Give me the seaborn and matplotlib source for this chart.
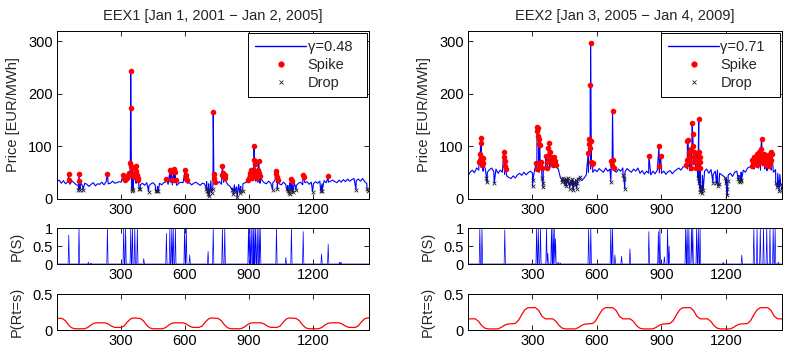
import numpy as np
import pandas as pd
import matplotlib
matplotlib.use("Agg")
import matplotlib.pyplot as plt
from matplotlib.lines import Line2D
import seaborn as sns

# === data =================================================================
titles = ["EEX1 [Jan 1, 2001 \u2212 Jan 2, 2005]", "EEX2 [Jan 3, 2005 \u2212 Jan 4, 2009]"]
gammas = ["\u03b3=0.48", "\u03b3=0.71"]
xticks = [300, 600, 900, 1200]

# baseline price, one reading every 10 days (day 1, 11, ..., 1451)
base_days = list(range(1, 1461, 10))
price1_base = [33, 36, 30, 35, 29, 33, 28, 34, 31, 27,
               26, 31, 25, 30, 28, 24, 28, 31, 25, 29,
               28, 32, 27, 33, 29, 30, 34, 30, 31, 33,
               32, 35, 34, 37, 38, 33, 37, 30, 31, 27,
               30, 26, 31, 25, 29, 31, 26, 24, 30, 27,
               31, 33, 28, 32, 27, 31, 26, 30, 32, 31,
               34, 30, 31, 27, 30, 32, 29, 26, 30, 29,
               33, 29, 35, 30, 34, 29, 33, 28, 32, 34,
               27, 24, 21, 27, 23, 28, 24, 29, 31, 33,
               35, 37, 39, 34, 32, 30, 35, 31, 29, 34,
               30, 31, 35, 31, 29, 27, 32, 28, 26, 31,
               27, 31, 26, 30, 32, 27, 31, 33, 28, 32,
               29, 33, 30, 34, 29, 35, 31, 32, 34, 36,
               33, 31, 36, 32, 37, 33, 38, 34, 37, 39,
               35, 38, 34, 39, 33, 29]
price2_base = [45, 51, 55, 50, 59, 55, 61, 53, 58, 51,
               56, 59, 52, 57, 49, 55, 51, 47, 44, 41,
               39, 44, 40, 46, 49, 45, 51, 46, 50, 53,
               49, 56, 59, 51, 61, 55, 63, 66, 59, 64,
               67, 61, 57, 40, 36, 35, 38, 32, 36, 34,
               33, 36, 38, 35, 40, 46, 51, 57, 51, 56,
               52, 58, 54, 51, 59, 53, 57, 61, 54, 51,
               57, 53, 59, 52, 58, 54, 51, 57, 53, 59,
               49, 54, 47, 53, 49, 46, 53, 48, 55, 50,
               49, 53, 47, 52, 54, 48, 53, 56, 59, 55,
               61, 63, 57, 54, 61, 65, 57, 53, 49, 45,
               53, 57, 49, 56, 47, 53, 55, 49, 46, 43,
               39, 46, 49, 43, 51, 53, 45, 51, 55, 51,
               59, 61, 63, 57, 65, 59, 55, 63, 57, 54,
               61, 55, 51, 56, 49, 47]

spike1_days = [56, 57, 104, 106, 237, 310, 313, 317, 322, 330, 335, 340, 344, 346, 347, 349,
               352, 355, 360, 366, 370, 373, 376, 379, 382, 513, 530, 535, 540, 548, 552, 556,
               600, 603, 606, 609, 732, 735, 738, 741, 772, 775, 778, 781, 785, 789,
               897, 900, 903, 906, 909, 912, 915, 920, 923, 925, 927, 930, 933, 937, 941, 945,
               948, 952, 1026, 1028, 1031, 1034, 1096, 1099, 1152, 1155, 1270]
spike1_vals = [47, 36, 47, 34, 47, 45, 40, 37, 42, 40, 45, 50, 68, 243, 174, 63,
               60, 45, 42, 50, 63, 54, 46, 40, 36, 38, 55, 52, 37, 58, 51, 36,
               55, 45, 40, 36, 165, 48, 40, 33, 45, 63, 50, 42, 46, 40,
               36, 40, 45, 50, 56, 46, 40, 55, 100, 75, 66, 50, 44, 40, 56, 72,
               50, 44, 53, 47, 42, 36, 38, 35, 45, 42, 43]
spike2_days = [52, 55, 58, 60, 61, 63, 65, 67, 70, 73, 167, 170, 172, 174, 176,
               318, 320, 322, 324, 326, 328, 330, 333, 335, 337, 340, 343,
               362, 366, 370, 375, 377, 380, 384, 388, 392, 396, 400, 405, 410,
               560, 563, 565, 567, 569, 570, 571, 573, 575, 577, 580,
               668, 671, 673, 676, 679, 842, 889, 891, 897,
               1015, 1018, 1021, 1024, 1027, 1030, 1033, 1036, 1040, 1043, 1046, 1048,
               1050, 1053, 1056, 1060, 1065, 1068, 1071, 1074, 1076, 1078, 1080, 1082,
               1320, 1323, 1326, 1330, 1333, 1336, 1340, 1343, 1346, 1350, 1353, 1356,
               1360, 1363, 1366, 1369, 1372, 1375, 1378, 1381, 1384, 1387, 1390, 1393,
               1396, 1399, 1402, 1405, 1408, 1412, 1414]
spike2_vals = [70, 75, 85, 116, 107, 80, 72, 65, 78, 68, 90, 80, 72, 63, 58,
               68, 58, 130, 138, 135, 120, 115, 105, 102, 65, 70, 60,
               82, 70, 60, 97, 106, 90, 75, 80, 70, 65, 80, 72, 65,
               88, 105, 115, 110, 98, 218, 298, 110, 70, 66, 68,
               72, 65, 167, 75, 60, 82, 100, 62, 81,
               65, 75, 110, 112, 80, 90, 70, 60, 95, 145, 124, 100,
               90, 80, 70, 60, 88, 75, 68, 152, 90, 80, 70, 60,
               62, 75, 70, 80, 68, 78, 72, 85, 65, 80, 74, 90,
               70, 96, 114, 82, 75, 68, 86, 72, 80, 65, 76, 70,
               84, 62, 78, 70, 74, 90, 86]

drop1_days = [101, 108, 122, 350, 353, 356, 385, 390, 430, 462, 470, 475, 700, 704, 708, 712,
              718, 724, 730, 820, 826, 834, 844, 856, 862, 870, 1010, 1032, 1075, 1080, 1085,
              1090, 1095, 1100, 1105, 1120, 1197, 1235, 1242, 1400, 1452, 1458]
drop1_vals = [18, 18, 17, 16, 20, 18, 20, 19, 14, 15, 16, 15, 20, 15, 10, 5,
              18, 12, 20, 18, 10, 14, 3, 12, 15, 16, 18, 20, 20, 15, 12,
              10, 16, 18, 14, 17, 14, 15, 16, 18, 20, 15]
drop2_days = [87, 89, 123, 301, 303, 345, 348, 350, 436, 440, 444, 448, 452, 455, 458, 462,
              466, 470, 474, 478, 482, 486, 490, 494, 498, 502, 506, 510, 514, 520, 665,
              722, 726, 730, 1070, 1074, 1078, 1082, 1086, 1090, 1095, 1140, 1156, 1162, 1168,
              1197, 1200, 1203, 1206, 1210, 1257, 1261, 1265, 1269, 1272, 1432, 1440, 1448,
              1455, 1460]
drop2_vals = [40, 32, 30, 24, 36, 40, 30, 22, 38, 32, 40, 36, 28, 38, 24, 33,
              40, 30, 20, 35, 28, 38, 18, 32, 26, 36, 20, 30, 38, 42, 33,
              45, 38, 20, 40, 30, 20, 14, 25, 12, 18, 31, 30, 25, 28,
              40, 30, 20, 8, 35, 38, 35, 32, 36, 34, 30, 22, 15,
              28, 18]

# spike-regime probability: peak day and height
ps1_days = [56, 104, 148, 160, 237, 313, 322, 346, 354, 365, 377, 407, 513, 529, 538, 545,
            555, 598, 606, 622, 708, 732, 775, 786, 897, 903, 910, 918, 923, 930, 938, 946,
            952, 1028, 1072, 1098, 1153, 1239, 1270, 1323, 1330]
ps1_vals = [0.8, 1, 0.05, 0.03, 1, 1, 1, 1, 1, 1, 1, 0.15, 0.85, 1, 1, 1,
            1, 1, 1, 0.25, 0.35, 1, 1, 1, 1, 1, 1, 1, 1, 1, 1, 1,
            1, 1, 0.18, 1, 0.9, 0.28, 0.55, 0.05, 0.05]
ps2_days = [56, 66, 172, 320, 328, 338, 366, 372, 389, 396, 402, 408, 420, 430, 562, 572,
            665, 673, 684, 715, 754, 842, 886, 893, 914, 929, 936, 1013, 1020, 1028, 1040,
            1046, 1064, 1072, 1080, 1188, 1274, 1330, 1345, 1360, 1375, 1390, 1405, 1420,
            1429, 1444]
ps2_vals = [1, 1, 0.95, 1, 1, 1, 1, 0.3, 1, 1, 1, 0.7, 0.05, 0.03, 1, 1,
            1, 1, 0.25, 0.22, 0.42, 0.9, 0.9, 1, 0.2, 1, 0.5, 1, 1, 1, 1,
            1, 1, 1, 1, 0.05, 0.25, 1, 1, 1, 1, 1, 1, 1,
            1, 0.05]

# P(Rt = s) readings
rt1_days = [1, 25, 40, 55, 70, 85, 130, 145, 160, 175, 190, 225, 240, 255, 270, 300, 315, 330, 345, 360,
            390, 405, 420, 435, 450, 495, 510, 525, 540, 555, 590, 605, 620, 635, 665, 680, 695, 710, 725,
            755, 770, 785, 800, 815, 860, 875, 890, 905, 920, 955, 970, 985, 1000, 1030, 1045, 1060, 1075, 1090,
            1120, 1135, 1150, 1165, 1180, 1225, 1240, 1255, 1270, 1285, 1320, 1335, 1350, 1365, 1395, 1410,
            1425, 1440, 1455, 1461]
rt1_vals = [0.165, 0.16, 0.13, 0.07, 0.03, 0.017, 0.017, 0.035, 0.07, 0.095, 0.10, 0.10, 0.085, 0.055, 0.037, 0.035, 0.055, 0.11, 0.155, 0.168,
            0.16, 0.13, 0.07, 0.03, 0.017, 0.017, 0.035, 0.07, 0.095, 0.10, 0.10, 0.085, 0.055, 0.037, 0.035, 0.055, 0.11, 0.155, 0.168,
            0.16, 0.13, 0.07, 0.03, 0.017, 0.017, 0.035, 0.07, 0.095, 0.10, 0.10, 0.085, 0.055, 0.037, 0.035, 0.055, 0.11, 0.155, 0.168,
            0.16, 0.13, 0.07, 0.03, 0.017, 0.017, 0.035, 0.07, 0.095, 0.10, 0.10, 0.085, 0.055, 0.037, 0.035, 0.055,
            0.11, 0.155, 0.168, 0.168]
rt2_days = [1, 35, 50, 65, 80, 95, 140, 155, 170, 185, 220, 235, 250, 265, 280, 315, 330, 345,
            361, 395, 410, 425, 440, 455, 500, 515, 530, 545, 580, 595, 610, 625, 640, 675, 690, 705,
            721, 755, 770, 785, 800, 815, 860, 875, 890, 905, 940, 955, 970, 985, 1000, 1035, 1050, 1065,
            1081, 1115, 1130, 1145, 1160, 1175, 1220, 1235, 1250, 1265, 1300, 1315, 1330, 1345, 1360, 1395,
            1410, 1425, 1441, 1461]
rt2_vals = [0.155, 0.155, 0.12, 0.06, 0.025, 0.015, 0.015, 0.035, 0.065, 0.082, 0.09, 0.13, 0.21, 0.28, 0.31, 0.31, 0.27, 0.19,
            0.155, 0.155, 0.12, 0.06, 0.025, 0.015, 0.015, 0.035, 0.065, 0.082, 0.09, 0.13, 0.21, 0.28, 0.31, 0.31, 0.27, 0.19,
            0.155, 0.155, 0.12, 0.06, 0.025, 0.015, 0.015, 0.035, 0.065, 0.082, 0.09, 0.13, 0.21, 0.28, 0.31, 0.31, 0.27, 0.19,
            0.155, 0.155, 0.12, 0.06, 0.025, 0.015, 0.015, 0.035, 0.065, 0.082, 0.09, 0.13, 0.21, 0.28, 0.31, 0.31, 0.27, 0.19,
            0.155, 0.155]

# === style ================================================================
FS = 10.5
sns.set_style("ticks")
plt.rcParams["font.family"] = ["Liberation Sans", "DejaVu Sans"]
plt.rcParams["font.size"] = FS
plt.rcParams["xtick.direction"] = "in"
plt.rcParams["ytick.direction"] = "in"
plt.rcParams["xtick.top"] = True
plt.rcParams["ytick.right"] = True

fig = plt.figure(figsize=(7.9, 3.54), dpi=100)
W, H = 790, 354


def box(x0, y0, x1, y1):
    return [x0 / W, 1 - y1 / H, (x1 - x0) / W, (y1 - y0) / H]


def style(ax, ymax, yticks, ylabel, labx):
    ax.set_xlim(1, 1461)
    ax.set_ylim(0, ymax)
    ax.set_xticks(xticks)
    ax.set_yticks(yticks)
    ax.set_ylabel(ylabel, fontsize=FS)
    ax.set_xlabel("")
    ax.yaxis.set_label_coords(labx, 0.5)
    ax.tick_params(length=3.5, width=0.6, colors="black", labelsize=FS, pad=3)
    ax.yaxis.set_major_formatter(matplotlib.ticker.FuncFormatter(lambda v, p: f"{v:g}"))
    for s in ax.spines.values():
        s.set_linewidth(0.7)
        s.set_color("black")


def pulses(days, vals):
    # each peak drawn as a narrow triangle from the zero line
    xs, ys = [1], [0.0]
    for d, v in zip(days, vals):
        xs += [d - 3, d, d + 3]
        ys += [0.0, v, 0.0]
    xs.append(1461)
    ys.append(0.0)
    return xs, ys


cols = [
    dict(x0=57, x1=369, base=price1_base, sd=spike1_days, sv=spike1_vals, dd=drop1_days,
         dv=drop1_vals, pd_=ps1_days, pv=ps1_vals, rd=rt1_days, rv=rt1_vals),
    dict(x0=468, x1=782, base=price2_base, sd=spike2_days, sv=spike2_vals, dd=drop2_days,
         dv=drop2_vals, pd_=ps2_days, pv=ps2_vals, rd=rt2_days, rv=rt2_vals),
]

for i, c in enumerate(cols):
    ax1 = fig.add_axes(box(c["x0"], 31, c["x1"], 199))
    ax2 = fig.add_axes(box(c["x0"], 228, c["x1"], 264))
    ax3 = fig.add_axes(box(c["x0"], 294, c["x1"], 330))

    price = pd.concat([
        pd.DataFrame({"day": base_days, "price": c["base"]}),
        pd.DataFrame({"day": c["sd"], "price": c["sv"]}),
        pd.DataFrame({"day": c["dd"], "price": c["dv"]}),
    ]).sort_values("day", kind="stable")

    sns.lineplot(data=price, x="day", y="price", ax=ax1, color="#0000ff", lw=0.8,
                 estimator=None, sort=False)
    sns.scatterplot(x=c["sd"], y=c["sv"], ax=ax1, color="#ff0000", s=16, linewidth=0, zorder=3)
    sns.scatterplot(x=c["dd"], y=c["dv"], ax=ax1, color="#222222", marker="x", s=7,
                    linewidth=0.6, zorder=3)
    style(ax1, 320, [0, 100, 200, 300], "Price [EUR/MWh]", -0.118)
    ax1.set_title(titles[i], fontsize=FS, pad=8)

    handles = [
        Line2D([], [], color="#0000ff", lw=1.0),
        Line2D([], [], color="#ff0000", marker="o", ms=4.5, lw=0, mew=0),
        Line2D([], [], color="#222222", marker="x", ms=3, lw=0, mew=0.6),
    ]
    labels = [gammas[i] + "  ", "Spike", "Drop"]
    leg = ax1.legend(handles, labels, loc="upper right", fancybox=False, edgecolor="black",
                     framealpha=1, handlelength=3.5, borderaxespad=0.15, fontsize=FS,
                     labelspacing=0.3, handletextpad=0.1, borderpad=0.45)
    leg.get_frame().set_linewidth(0.7)

    px, py = pulses(c["pd_"], c["pv"])
    sns.lineplot(x=px, y=py, ax=ax2, color="#0000ff", lw=0.5, estimator=None, sort=False)
    style(ax2, 1, [0, 0.5, 1], "P(S)", -0.105)

    sns.lineplot(x=c["rd"], y=c["rv"], ax=ax3, color="#ff0000", lw=0.9, estimator=None, sort=False)
    style(ax3, 0.5, [0, 0.5], "P(Rt=s)", -0.105)

fig.savefig("out.png", dpi=100)
